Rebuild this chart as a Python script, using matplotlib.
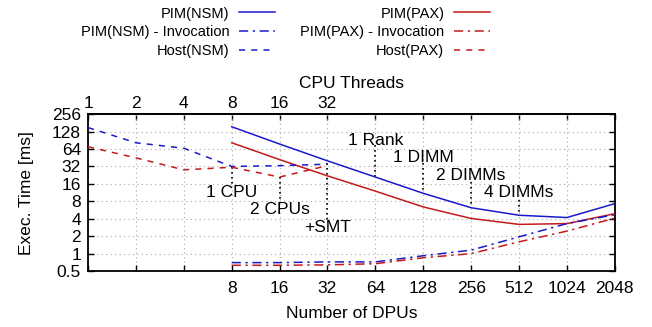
import matplotlib
matplotlib.use("Agg")
import matplotlib.pyplot as plt

plt.rcParams['font.family'] = ['Liberation Sans', 'DejaVu Sans']
plt.rcParams['font.size'] = 12.5

# x positions (DPUs / CPU threads share one log2 axis)
host_x = [1, 2, 4, 8, 16, 32]
pim_x = [8, 16, 32, 64, 128, 256, 512, 1024, 2048]

host_nsm = [150, 82, 66, 32, 33, 35]
host_pax = [70, 45, 28, 31, 21, 33]
pim_nsm = [155, 78, 40, 21, 11, 6.2, 4.6, 4.2, 7.3]
pim_pax = [82, 42, 22, 12, 6.4, 4.05, 3.2, 3.3, 4.9]
inv_nsm = [0.7, 0.7, 0.72, 0.72, 0.92, 1.15, 1.95, 3.3, 4.7]
inv_pax = [0.63, 0.63, 0.64, 0.67, 0.85, 1.0, 1.6, 2.45, 4.1]

# annotations: x, label, label y, dotted line from/to
cpu_x = [8, 16, 32]
cpu_lbl = ["1 CPU", "2 CPUs", "+SMT"]
cpu_lbl_y = [11.3, 5.7, 2.8]
cpu_top = [31, 21, 36]
cpu_bot = [15, 7.5, 3.4]

dpu_x = [64, 128, 256, 512]
dpu_lbl = ["1 Rank", "1 DIMM", "2 DIMMs", "4 DIMMs"]
dpu_lbl_y = [90, 45, 22.6, 11.3]
dpu_top = [74, 36, 17, 8.4]
dpu_bot = [21, 11, 6.2, 4.6]

bottom_ticks = [1, 2, 4, 8, 16, 32, 64, 128, 256, 512, 1024, 2048]
bottom_labels = ["", "", "", "8", "16", "32", "64", "128", "256", "512", "1024", "2048"]
top_ticks = [1, 2, 4, 8, 16, 32]
y_ticks = [0.5, 1, 2, 4, 8, 16, 32, 64, 128, 256]
y_labels = ["0.5", "1", "2", "4", "8", "16", "32", "64", "128", "256"]

blue = '#1a1acc'
red = '#c41a1a'

fig = plt.figure(figsize=(6.52, 3.27), dpi=100)
ax = fig.add_axes([0.135, 0.171, 0.808, 0.48])

ax.set_xscale('log', base=2)
ax.set_yscale('log', base=2)
ax.set_xlim(1, 2048)
ax.set_ylim(0.5, 256)

ax.grid(True, which='major', color='#a8a8a8', linestyle=(0, (1, 3)), linewidth=0.8)

for x, t, b in zip(cpu_x, cpu_top, cpu_bot):
    ax.plot([x, x], [t, b], color='black', linestyle=(0, (1, 2)), linewidth=1.2, zorder=2)
for x, l, y in zip(cpu_x, cpu_lbl, cpu_lbl_y):
    ax.text(x, y, l, ha='center', va='center')
for x, t, b in zip(dpu_x, dpu_top, dpu_bot):
    ax.plot([x, x], [t, b], color='black', linestyle=(0, (1, 2)), linewidth=1.2, zorder=2)
for x, l, y in zip(dpu_x, dpu_lbl, dpu_lbl_y):
    ax.text(x, y, l, ha='center', va='center')

ax.plot(pim_x, pim_nsm, color=blue, lw=1.1, label='PIM(NSM)', zorder=3)
ax.plot(pim_x, pim_pax, color=red, lw=1.1, label='PIM(PAX)', zorder=3)
ax.plot(pim_x, inv_nsm, color=blue, lw=1.1, linestyle=(0, (6, 3, 1.5, 3)),
        label='PIM(NSM) - Invocation', zorder=3)
ax.plot(pim_x, inv_pax, color=red, lw=1.1, linestyle=(0, (6, 3, 1.5, 3)),
        label='PIM(PAX) - Invocation', zorder=3)
ax.plot(host_x, host_nsm, color=blue, lw=1.1, linestyle=(0, (4, 4)),
        label='Host(NSM)', zorder=3)
ax.plot(host_x, host_pax, color=red, lw=1.1, linestyle=(0, (4, 4)),
        label='Host(PAX)', zorder=3)

ax.set_xticks(bottom_ticks)
ax.set_xticklabels(bottom_labels)
ax.xaxis.set_minor_locator(plt.NullLocator())
ax.set_yticks(y_ticks)
ax.set_yticklabels(y_labels)
ax.yaxis.set_minor_locator(plt.NullLocator())
ax.tick_params(direction='in', length=4, width=1, top=False, right=True)
ax.tick_params(axis='x', pad=7)
ax.tick_params(axis='y', pad=5)

top = ax.secondary_xaxis('top')
top.set_xticks(bottom_ticks)
top.set_xticklabels([str(t) if t in top_ticks else "" for t in bottom_ticks])
top.xaxis.set_minor_locator(plt.NullLocator())
top.tick_params(direction='in', length=4, width=1, pad=2)
top.set_xlabel('CPU Threads', labelpad=6)

for s in ax.spines.values():
    s.set_linewidth(1.3)
top.spines['top'].set_linewidth(1.3)

ax.set_xlabel('Number of DPUs', labelpad=7)
ax.set_ylabel('Exec. Time [ms]', labelpad=13)

h, l = ax.get_legend_handles_labels()
order = [0, 2, 4, 1, 3, 5]
fig.legend([h[i] for i in order], [l[i] for i in order], ncol=2, markerfirst=False,
           frameon=False, loc='upper right', bbox_to_anchor=(0.772, 1.02),
           handlelength=2.5, handletextpad=0.65, columnspacing=1.7,
           labelspacing=0.32, fontsize=10.5)

fig.savefig('out.png', dpi=100)
